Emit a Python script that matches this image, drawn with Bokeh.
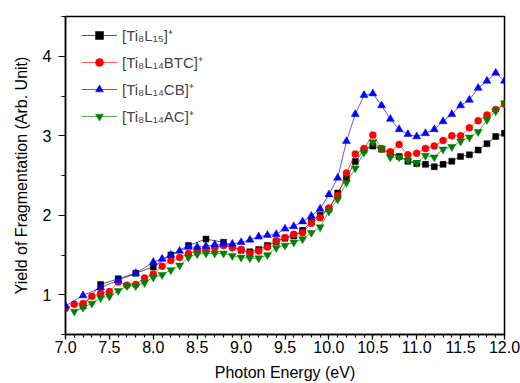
from bokeh.plotting import figure
from bokeh.models import FixedTicker, Legend, LegendItem, Range1d
from bokeh.embed import file_html
from bokeh.resources import INLINE

# ---- data ----
x_black = [7.2, 7.4, 7.6, 7.8, 8.0, 8.2, 8.4, 8.6, 8.8, 9.0,
           9.1, 9.2, 9.3, 9.4, 9.5, 9.6, 9.7, 9.8, 9.9, 10.0,
           10.1, 10.2, 10.3, 10.4, 10.5, 10.6, 10.7, 10.8, 10.9, 11.0,
           11.1, 11.2, 11.3, 11.4, 11.5, 11.6, 11.7, 11.8, 11.9, 12.0]
y_black = [0.86, 1.13, 1.20, 1.27, 1.35, 1.50, 1.62, 1.70, 1.66, 1.56,
           1.54, 1.57, 1.62, 1.67, 1.71, 1.74, 1.81, 1.92, 2.00, 2.08,
           2.28, 2.47, 2.675, 2.82, 2.87, 2.83, 2.78, 2.74, 2.68, 2.65,
           2.64, 2.61, 2.64, 2.68, 2.74, 2.76, 2.82, 2.90, 2.99, 3.03]

x_red = [7.0, 7.1, 7.2, 7.3, 7.4, 7.5, 7.6, 7.7, 7.8, 7.9,
         8.0, 8.1, 8.2, 8.3, 8.4, 8.5, 8.6, 8.7, 8.8, 8.9,
         9.0, 9.1, 9.2, 9.3, 9.4, 9.5, 9.6, 9.7, 9.8, 9.9,
         10.0, 10.1, 10.2, 10.3, 10.4, 10.5, 10.6, 10.7, 10.8, 10.9,
         11.0, 11.1, 11.2, 11.3, 11.4, 11.5, 11.6, 11.7, 11.8, 11.9,
         12.0]
y_red = [0.83, 0.88, 0.89, 0.98, 1.02, 1.04, 1.16, 1.12, 1.13, 1.21,
         1.26, 1.36, 1.43, 1.47, 1.52, 1.55, 1.56, 1.59, 1.62, 1.59,
         1.57, 1.52, 1.55, 1.60, 1.68, 1.72, 1.76, 1.78, 1.90, 1.97,
         2.09, 2.25, 2.53, 2.77, 2.84, 3.01, 2.84, 2.80, 2.89, 2.76,
         2.78, 2.84, 2.87, 2.94, 3.00, 3.00, 3.10, 3.19, 3.26, 3.33,
         3.40]

x_blue = [7.0, 7.2, 7.4, 7.6, 7.8, 8.0,
          8.1, 8.2, 8.3, 8.4, 8.5, 8.6, 8.7, 8.8, 8.9, 9.0,
          9.1, 9.2, 9.3, 9.4, 9.5, 9.6, 9.7, 9.8, 9.9, 10.0,
          10.1, 10.2, 10.3, 10.4, 10.5, 10.6, 10.7, 10.8, 10.9, 11.0,
          11.1, 11.2, 11.3, 11.4, 11.5, 11.6, 11.7, 11.8, 11.9, 12.0]
y_blue = [0.86, 0.99, 1.09, 1.18, 1.27, 1.41,
          1.45, 1.50, 1.55, 1.60, 1.60, 1.61, 1.63, 1.64, 1.64, 1.66,
          1.69, 1.73, 1.75, 1.76, 1.83, 1.86, 1.92, 1.99, 2.08, 2.26,
          2.47, 2.93, 3.27, 3.51, 3.53, 3.38, 3.21, 3.08, 3.02, 2.99,
          3.03, 3.08, 3.18, 3.27, 3.38, 3.45, 3.60, 3.69, 3.79, 3.69]

x_green = [7.1, 7.2, 7.3, 7.4, 7.5, 7.6, 7.7, 7.8, 7.9,
           8.0, 8.1, 8.2, 8.3, 8.4, 8.5, 8.6, 8.7, 8.8, 8.9,
           9.0, 9.1, 9.2, 9.3, 9.4, 9.5, 9.6, 9.7, 9.8, 9.9,
           10.0, 10.1, 10.2, 10.3, 10.4, 10.5, 10.6, 10.7, 10.8, 10.9,
           11.0, 11.1, 11.2, 11.3, 11.4, 11.5, 11.6, 11.7, 11.8, 11.9, 12.0]
y_green = [0.79, 0.84, 0.89, 0.96, 0.98, 1.05, 1.11, 1.11, 1.15,
           1.22, 1.25, 1.31, 1.37, 1.47, 1.51, 1.52, 1.52, 1.52, 1.49,
           1.47, 1.46, 1.46, 1.50, 1.59, 1.62, 1.66, 1.70, 1.78, 1.85,
           2.05, 2.20, 2.41, 2.59, 2.79, 2.92, 2.84, 2.73, 2.73, 2.69,
           2.66, 2.75, 2.73, 2.83, 2.86, 2.93, 2.98, 3.05, 3.20, 3.31, 3.41]

series_labels = ["[Ti\u2088L\u2081\u2085]\u207a",
                 "[Ti\u2088L\u2081\u2084BTC]\u207a",
                 "[Ti\u2088L\u2081\u2084CB]\u207a",
                 "[Ti\u2088L\u2081\u2084AC]\u207a"]

x_tick_values = [7.0, 7.5, 8.0, 8.5, 9.0, 9.5, 10.0, 10.5, 11.0, 11.5, 12.0]
x_tick_labels = ["7.0", "7.5", "8.0", "8.5", "9.0", "9.5", "10.0", "10.5", "11.0", "11.5", "12.0"]
y_tick_values = [1, 2, 3, 4]
y_tick_labels = ["1", "2", "3", "4"]
y_minor_values = [0.5, 1.5, 2.5, 3.5, 4.5]
x_minor_values = [round(7.0 + 0.1 * i, 1) for i in range(51)]

x_title = "Photon Energy (eV)"
y_title = "Yield of Fragmentation (Arb. Unit)"

FONT = "Liberation Sans"

p = figure(width=520, height=383, output_backend="svg", toolbar_location=None,
           x_range=Range1d(7.0, 12.0), y_range=Range1d(0.5, 4.5),
           min_border_top=16, min_border_left=65, min_border_right=16, min_border_bottom=0)
p.grid.visible = False
p.outline_line_color = "black"
p.outline_line_width = 1.5
p.background_fill_color = "white"
p.border_fill_color = "white"

for ax in (p.xaxis[0], p.yaxis[0]):
    ax.axis_line_width = 1.5
    ax.major_tick_line_width = 1.2
    ax.minor_tick_line_width = 1.2
    ax.major_tick_in = 0
    ax.minor_tick_in = 0
    ax.major_label_text_font = FONT
    ax.major_label_text_font_size = "16px"
    ax.major_label_text_color = "black"
    ax.axis_label_text_font = FONT
    ax.axis_label_text_font_size = "16px"
    ax.axis_label_text_font_style = "normal"
    ax.axis_label_text_color = "black"

p.xaxis[0].ticker = FixedTicker(ticks=x_tick_values, minor_ticks=x_minor_values)
p.xaxis[0].major_label_overrides = dict(zip(x_tick_values, x_tick_labels))
p.xaxis[0].major_tick_out = 5
p.xaxis[0].minor_tick_out = 3
p.xaxis[0].major_label_standoff = 1
p.xaxis[0].axis_label = x_title
p.xaxis[0].axis_label_standoff = 8

p.yaxis[0].ticker = FixedTicker(ticks=y_tick_values, minor_ticks=y_minor_values)
p.yaxis[0].major_label_overrides = dict(zip(y_tick_values, y_tick_labels))
p.yaxis[0].major_tick_out = 7
p.yaxis[0].minor_tick_out = 4
p.yaxis[0].major_label_standoff = 7
p.yaxis[0].axis_label = y_title
p.yaxis[0].axis_label_standoff = 10

specs = [
    (x_black, y_black, "black", "square", 6),
    (x_red, y_red, "#ff0000", "circle", 7),
    (x_blue, y_blue, "#0000ff", "triangle", 8),
    (x_green, y_green, "#008000", "inverted_triangle", 8),
]

items = []
for (xs, ys, col, mk, sz), lab in zip(specs, series_labels):
    ln = p.line(xs, ys, line_color=col, line_width=1, line_alpha=0.65)
    sc = p.scatter(xs, ys, marker=mk, size=sz, fill_color=col, line_color=col, line_width=0.5)
    items.append(LegendItem(label=lab, renderers=[ln, sc]))

legend = Legend(items=items, location=(16, 208), margin=0, padding=0,
                spacing=7, glyph_width=36, glyph_height=20, label_height=20,
                label_standoff=5, label_text_font=FONT, label_text_font_size="15px",
                background_fill_alpha=0, border_line_alpha=0)
p.add_layout(legend)

open("out.html", "w").write(file_html(p, INLINE))
